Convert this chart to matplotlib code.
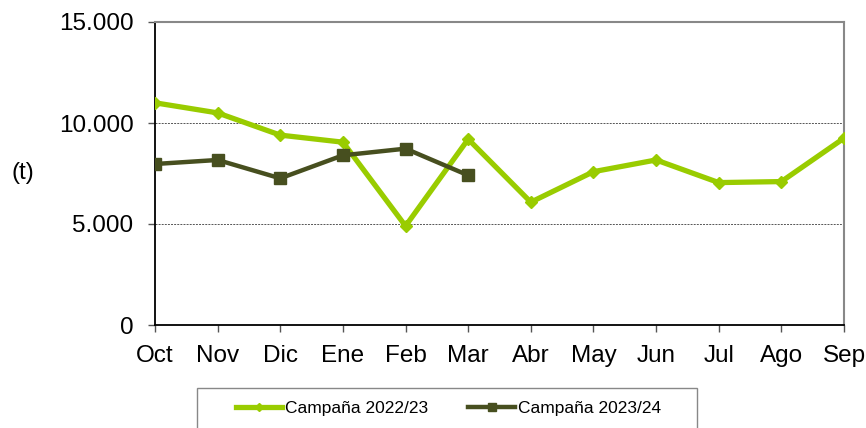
import matplotlib
matplotlib.use("Agg")
import matplotlib.pyplot as plt
from matplotlib.patches import Rectangle
from matplotlib.ticker import FuncFormatter

plt.rcParams['font.family'] = ['Liberation Sans', 'DejaVu Sans']

months = ["Oct", "Nov", "Dic", "Ene", "Feb", "Mar", "Abr", "May", "Jun", "Jul", "Ago", "Sep"]
campana_2022_23 = [11000, 10500, 9400, 9050, 4900, 9200, 6080, 7590, 8170, 7050, 7100, 9250]
campana_2023_24 = [7970, 8170, 7260, 8400, 8730, 7410]
label_a = "Campaña 2022/23"
label_b = "Campaña 2023/24"
yticks = [0, 5000, 10000, 15000]

W, H = 866, 428
fig = plt.figure(figsize=(W / 100, H / 100), dpi=100)
ax = fig.add_axes([155 / W, 1 - 325 / H, (844 - 155) / W, (325 - 22) / H])

light = "#99CC00"
dark = "#474F1F"

x_a = list(range(len(campana_2022_23)))
x_b = list(range(len(campana_2023_24)))
ax.plot(x_a, campana_2022_23, color=light, lw=3.8, marker="D", ms=6.5,
        mec=light, mfc=light, label=label_a, zorder=3)
ax.plot(x_b, campana_2023_24, color=dark, lw=3.2, marker="s", ms=8.5,
        mec=dark, mfc=dark, label=label_b, zorder=4)

ax.set_xlim(0, 11)
ax.set_ylim(0, 15000)
ax.set_xticks(x_a)
ax.set_xticklabels(months)
ax.set_yticks(yticks)
ax.yaxis.set_major_formatter(FuncFormatter(lambda v, p: f"{int(v):,}".replace(",", ".")))

for y in [5000, 10000]:
    ax.axhline(y, color="#555555", lw=0.7, ls=(0, (2, 1.2)), zorder=1)

ax.spines['left'].set_color('black')
ax.spines['bottom'].set_color('black')
ax.spines['left'].set_linewidth(1.3)
ax.spines['bottom'].set_linewidth(1.3)
ax.spines['top'].set_color('#888888')
ax.spines['right'].set_color('#888888')
ax.spines['top'].set_linewidth(1.5)
ax.spines['right'].set_linewidth(1.5)

ax.tick_params(axis='y', direction='out', length=5, width=1, color='#555555', labelsize=17.5, pad=10.5)
ax.tick_params(axis='x', direction='out', length=5, width=1, color='#555555', labelsize=17.5, pad=9.5)
for lab in ax.get_xticklabels() + ax.get_yticklabels():
    lab.set_color("black")

fig.text(23 / W, 1 - 173 / H, "(t)", fontsize=17.5, ha="center", va="center")

# legend box (clipped at bottom)
fig.patches.append(Rectangle((197 / W, -0.05), (697 - 197) / W, (1 - 388 / H) + 0.05,
                             transform=fig.transFigure, fill=False,
                             edgecolor="#888888", lw=1.0))
fig.legend(loc="center", bbox_to_anchor=(448.5 / W, 1 - 408 / H), ncol=2,
           frameon=False, fontsize=12.5, handlelength=2.7, handletextpad=0.17,
           columnspacing=2.3, borderpad=0, markerscale=0.7)

fig.savefig("out.png", dpi=100)
